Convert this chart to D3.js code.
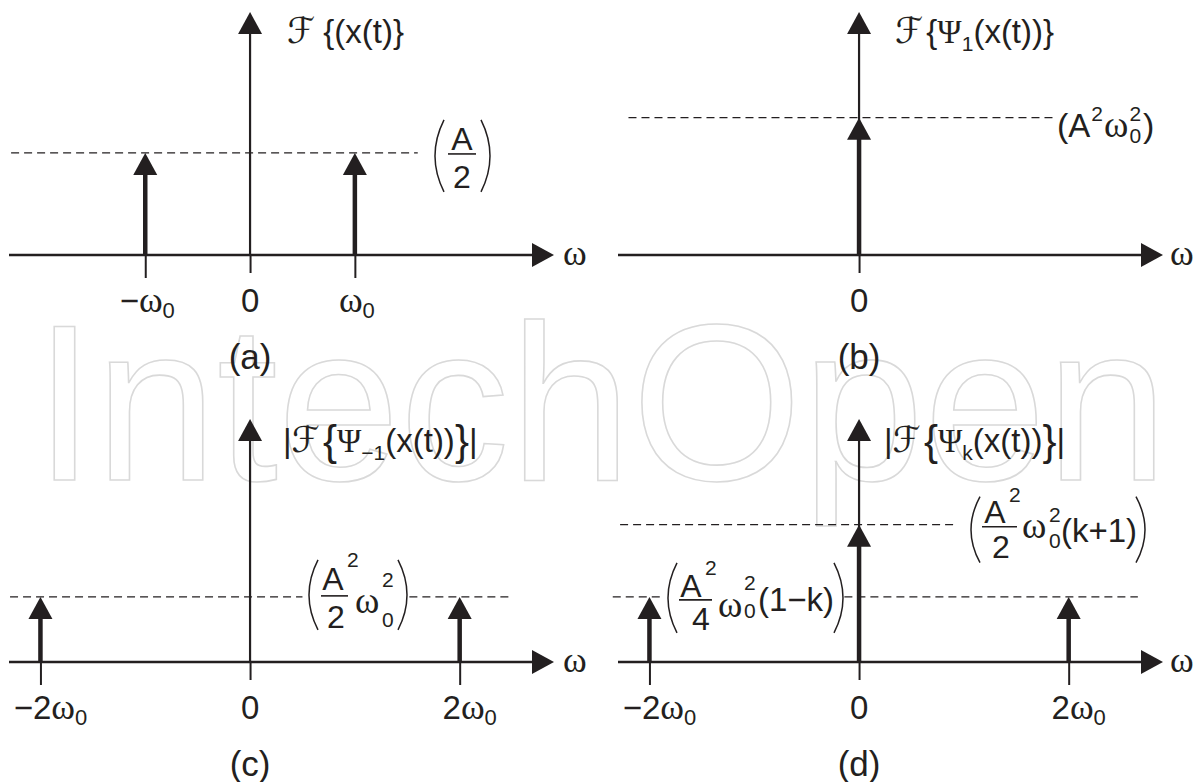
<!DOCTYPE html>
<html>
<head>
<meta charset="utf-8">
<script src="https://cdn.jsdelivr.net/npm/d3@7"></script>
<style>
  body { margin: 0; background: #fff; }
  text { font-family: "Liberation Sans", Arial, sans-serif; fill: #231f20; }
  .greek { font-family: "Liberation Serif", "DejaVu Serif", serif; }
</style>
</head>
<body>
<svg id="chart" width="1193" height="782"></svg>
<script>
// stem positions in multiples of w0, and their heights (axis top = 1)
const freqsA = [-1, 1];
const ampsA = [0.42, 0.42];
const freqsB = [0];
const ampsB = [0.565];
const freqsC = [-2, 2];
const ampsC = [0.268, 0.268];
const freqsD = [-2, 0, 2];
const ampsD = [0.268, 0.565, 0.268];

// tick values and their labels
const ticksA = [-1, 0, 1];
const tickLabelsA = ['−ω0', '0', 'ω0'];
const ticksB = [0];
const tickLabelsB = ['0'];
const ticksC = [-2, 0, 2];
const tickLabelsC = ['−2ω0', '0', '2ω0'];
const ticksD = [-2, 0, 2];
const tickLabelsD = ['−2ω0', '0', '2ω0'];

// dashed reference levels: [level, from, to]
const dashesA = [[0.42, -2.28, 1.6]];
const dashesB = [[0.565, -2.2, 1.87]];
const dashesC = [[0.268, -2.29, 0.5], [0.268, 1.52, 2.49]];
const dashesD = [[0.565, -2.28, 0.92], [0.268, -2.35, -1.87], [0.268, -0.14, 2.66]];

const INK = '#231f20';
const MATH = '"DejaVu Serif", "DejaVu Sans", serif';
const SERIF = '"Liberation Serif", "DejaVu Serif", serif';

const svg = d3.select('#chart');

// watermark
svg.append('text')
  .attr('x', 34)
  .attr('y', 480)
  .attr('textLength', 1134)
  .attr('lengthAdjust', 'spacingAndGlyphs')
  .style('font-size', '223px')
  .style('fill', 'none')
  .style('stroke', '#d9d9d9')
  .style('stroke-width', 1.6)
  .text('IntechOpen');

const xLeft = d3.scaleLinear().domain([-2.3, 2.9]).range([9, 554]);
const xRight = d3.scaleLinear().domain([-2.3, 2.9]).range([618, 1163]);
const yTop = d3.scaleLinear().domain([0, 1]).range([255, 12]);
const yBot = d3.scaleLinear().domain([0, 1]).range([662, 419]);

const panels = [
  {x: xLeft, y: yTop, freqs: freqsA, amps: ampsA, ticks: ticksA, labels: tickLabelsA, dashes: dashesA, name: '(a)', wdx: 9},
  {x: xRight, y: yTop, freqs: freqsB, amps: ampsB, ticks: ticksB, labels: tickLabelsB, dashes: dashesB, name: '(b)', wdx: 7},
  {x: xLeft, y: yBot, freqs: freqsC, amps: ampsC, ticks: ticksC, labels: tickLabelsC, dashes: dashesC, name: '(c)', wdx: 9},
  {x: xRight, y: yBot, freqs: freqsD, amps: ampsD, ticks: ticksD, labels: tickLabelsD, dashes: dashesD, name: '(d)', wdx: 7}
];

const upHead = (cx, tip) => `M${cx},${tip}L${cx - 12},${tip + 22}L${cx + 12},${tip + 22}Z`;
const rightHead = (tip, cy) => `M${tip},${cy}L${tip - 22},${cy - 12}L${tip - 22},${cy + 12}Z`;

// lays out text pieces left to right; stack:true does not advance
function run(g, x, y, items) {
  let cx = x;
  items.forEach(it => {
    const t = g.append('text')
      .attr('x', cx + (it.dx || 0))
      .attr('y', y + (it.dy || 0))
      .style('font-size', it.fs + 'px')
      .text(it.s);
    if (it.font) t.style('font-family', it.font);
    const w = t.node().getComputedTextLength();
    if (!it.stack) cx += w + (it.dx || 0);
  });
  return cx;
}

function txt(g, x, y, s, fs, anchor) {
  return g.append('text')
    .attr('x', x).attr('y', y)
    .attr('text-anchor', anchor || 'start')
    .style('font-size', fs + 'px')
    .text(s);
}

function omega(g, x, y, fs) {
  return txt(g, x, y, 'ω', fs).attr('class', 'greek');
}

// tall bracket drawn as a curve
function paren(g, x, top, bottom, side) {
  const mid = (top + bottom) / 2;
  const bulge = side === 'left' ? -9 : 9;
  g.append('path')
    .attr('d', `M${x},${top}Q${x + bulge * 2},${mid} ${x},${bottom}`)
    .attr('fill', 'none')
    .attr('stroke', INK)
    .attr('stroke-width', 1.5);
}

function bar(g, x1, x2, y) {
  g.append('line')
    .attr('x1', x1).attr('x2', x2).attr('y1', y).attr('y2', y)
    .attr('stroke', INK).attr('stroke-width', 1.6);
}

function drawPanel(p) {
  const g = svg.append('g');
  const x = p.x, y = p.y;
  const base = y(0);

  // dashed levels
  g.selectAll('line.dash')
    .data(p.dashes)
    .enter()
    .append('line')
    .attr('class', 'dash')
    .attr('x1', d => x(d[1]))
    .attr('x2', d => x(d[2]))
    .attr('y1', d => y(d[0]))
    .attr('y2', d => y(d[0]))
    .attr('stroke', INK)
    .attr('stroke-width', 1.3)
    .attr('stroke-dasharray', '8,5');

  // ticks hanging below the axis
  const axis = g.append('g')
    .attr('transform', `translate(0,${base})`)
    .call(d3.axisBottom(x).tickValues(p.ticks).tickSize(23).tickFormat(''));
  axis.select('.domain').remove();
  axis.selectAll('.tick line')
    .attr('stroke', INK)
    .attr('stroke-width', 2)
    .attr('y2', d => d === 0 ? 18 : 23);

  // horizontal axis
  const [d0, d1] = x.domain();
  g.append('line')
    .attr('x1', x(d0)).attr('x2', x(d1) - 18)
    .attr('y1', base).attr('y2', base)
    .attr('stroke', INK).attr('stroke-width', 2.7);
  g.append('path').attr('d', rightHead(x(d1), base)).attr('fill', INK);
  omega(g, x(d1) + p.wdx, base + 10, 36);

  // vertical axis
  g.append('line')
    .attr('x1', x(0)).attr('x2', x(0))
    .attr('y1', base).attr('y2', y(1) + 18)
    .attr('stroke', INK).attr('stroke-width', 2.2);
  g.append('path').attr('d', upHead(x(0), y(1))).attr('fill', INK);

  // stems
  const stems = p.freqs.map((f, i) => ({f: f, a: p.amps[i]}));
  g.selectAll('line.stem')
    .data(stems)
    .enter()
    .append('line')
    .attr('class', 'stem')
    .attr('x1', d => x(d.f)).attr('x2', d => x(d.f))
    .attr('y1', base).attr('y2', d => y(d.a) + 18)
    .attr('stroke', INK).attr('stroke-width', 4.5);
  g.selectAll('path.stemhead')
    .data(stems)
    .enter()
    .append('path')
    .attr('class', 'stemhead')
    .attr('d', d => upHead(x(d.f), y(d.a)))
    .attr('fill', INK);

  // tick labels: prefix, omega, subscript 0
  p.ticks.forEach((v, i) => {
    const m = p.labels[i].match(/^(.*?)(ω)(0)$/);
    const t = g.append('text')
      .attr('x', x(v) + (Math.abs(v) === 2 ? 10 : (v !== 0 ? 2 : 0)))
      .attr('y', base + 57)
      .attr('text-anchor', 'middle')
      .style('font-size', '33px');
    if (!m) {
      t.text(p.labels[i]);
      return;
    }
    if (m[1]) t.append('tspan').text(m[1]);
    t.append('tspan').attr('class', 'greek').style('font-size', '36px').text('ω');
    t.append('tspan').attr('dy', 6).style('font-size', '22px').text(m[3]);
  });

  // panel letter
  txt(g, x(0), base + 114, p.name, 35, 'middle');
  return g;
}

const gs = panels.map(drawPanel);

// titles
run(gs[0], 287, 43, [
  {s: 'ℱ', fs: 36, font: MATH},
  {s: '{(x(t)}', fs: 33, dx: 8}
]);
run(gs[1], 895, 43, [
  {s: 'ℱ', fs: 36, font: MATH},
  {s: '{', fs: 33, dx: 3},
  {s: 'Ψ', fs: 33, font: SERIF},
  {s: '1', fs: 21, dy: 8},
  {s: '(x(t))}', fs: 33}
]);
run(gs[2], 283, 452, [
  {s: '|', fs: 33},
  {s: 'ℱ', fs: 36, font: MATH},
  {s: '{', fs: 42, dx: 3, dy: 3},
  {s: 'Ψ', fs: 33, font: SERIF},
  {s: '−1', fs: 21, dy: 8},
  {s: '(x(t))', fs: 33},
  {s: '}', fs: 42, dy: 3},
  {s: '|', fs: 33}
]);
run(gs[3], 884, 452, [
  {s: '|', fs: 33},
  {s: 'ℱ', fs: 36, font: MATH},
  {s: '{', fs: 42, dx: 3, dy: 3},
  {s: 'Ψ', fs: 33, font: SERIF},
  {s: 'k', fs: 21, dy: 8},
  {s: '(x(t))', fs: 33},
  {s: '}', fs: 42, dy: 3},
  {s: '|', fs: 33}
]);

// level annotations
(function () {
  const g = gs[0];
  const ly = yTop(ampsA[1]);
  paren(g, 444, ly - 33, ly + 39, 'left');
  paren(g, 481, ly - 33, ly + 39, 'right');
  txt(g, 462, ly - 3, 'A', 32, 'middle');
  bar(g, 448, 476, ly + 1);
  txt(g, 462, ly + 35, '2', 32, 'middle');
})();

(function () {
  const g = gs[1];
  const ly = yTop(ampsB[0]);
  run(g, 1057, ly + 19, [
    {s: '(', fs: 34},
    {s: 'A', fs: 33},
    {s: '2', fs: 21, dy: -16, dx: 1},
    {s: 'ω', fs: 37, dx: 1, font: SERIF},
    {s: '2', fs: 21, dy: -16, dx: 1, stack: true},
    {s: '0', fs: 21, dy: 6, dx: 1},
    {s: ')', fs: 34, dx: 2}
  ]);
})();

(function () {
  const g = gs[2];
  const ly = yBot(ampsC[0]);
  paren(g, 318, ly - 37, ly + 33, 'left');
  paren(g, 398, ly - 37, ly + 33, 'right');
  txt(g, 333, ly - 7, 'A', 32, 'middle');
  txt(g, 347, ly - 30, '2', 21);
  bar(g, 321, 348, ly - 1);
  txt(g, 336, ly + 31, '2', 32, 'middle');
  omega(g, 355, ly + 16, 37);
  txt(g, 382, ly - 10, '2', 21);
  txt(g, 382, ly + 30, '0', 21);
})();

(function () {
  const g = gs[3];
  const ly = yBot(ampsD[1]);
  paren(g, 980, ly - 28, ly + 38, 'left');
  paren(g, 1136, ly - 28, ly + 38, 'right');
  txt(g, 995, ly - 2, 'A', 32, 'middle');
  txt(g, 1009, ly - 23, '2', 21);
  bar(g, 982, 1017, ly + 2);
  txt(g, 1001, ly + 33, '2', 32, 'middle');
  omega(g, 1022, ly + 13, 37);
  txt(g, 1049, ly - 3, '2', 21);
  txt(g, 1049, ly + 23, '0', 21);
  txt(g, 1061, ly + 17, '(k+1)', 33);

  const ly2 = yBot(ampsD[0]);
  paren(g, 677, ly2 - 34, ly2 + 36, 'left');
  paren(g, 834, ly2 - 34, ly2 + 36, 'right');
  txt(g, 691, ly2, 'A', 32, 'middle');
  txt(g, 705, ly2 - 22, '2', 21);
  bar(g, 679, 712, ly2 + 3);
  txt(g, 701, ly2 + 33, '4', 32, 'middle');
  omega(g, 718, ly2 + 20, 37);
  txt(g, 744, ly2 - 7, '2', 21);
  txt(g, 744, ly2 + 21, '0', 21);
  txt(g, 758, ly2 + 14, '(1−k)', 33);
})();
</script>
</body>
</html>
